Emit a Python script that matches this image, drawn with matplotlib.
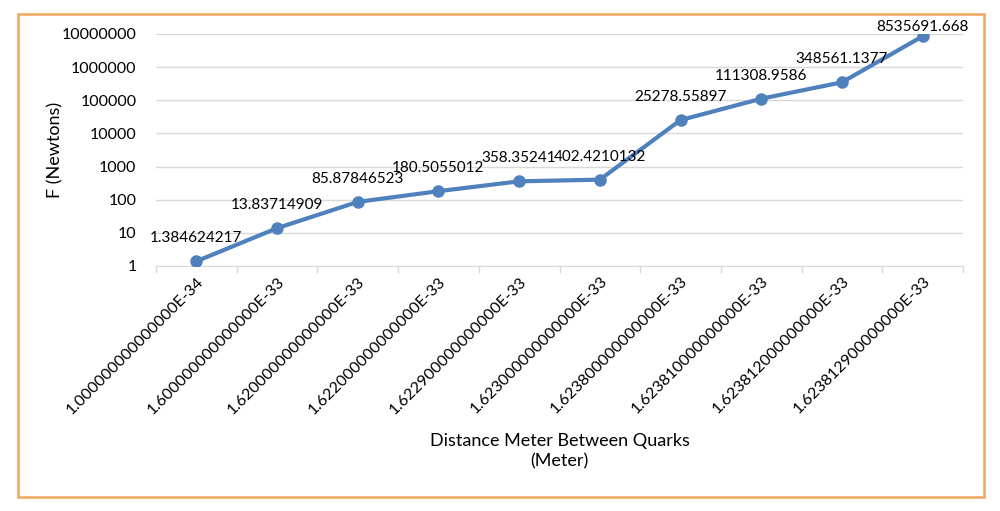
import matplotlib.pyplot as plt
from matplotlib import ticker
from matplotlib.patches import Rectangle

distances = ["1.000000000000000E-34", "1.600000000000000E-33", "1.620000000000000E-33",
             "1.622000000000000E-33", "1.622900000000000E-33", "1.623000000000000E-33",
             "1.623800000000000E-33", "1.623810000000000E-33", "1.623812000000000E-33",
             "1.623812900000000E-33"]
force = [1.384624217, 13.83714909, 85.87846523, 180.5055012, 358.35241, 402.4210132,
         25278.55897, 111308.9586, 348561.1377, 8535691.668]
force_labels = ["1.384624217", "13.83714909", "85.87846523", "180.5055012", "358.35241",
                "402.4210132", "25278.55897", "111308.9586", "348561.1377", "8535691.668"]

line_col = "#4F81BD"
grid_col = "#D9D9D9"
frame_col = "#F2A65E"

plt.rcParams['font.family'] = ['Lato', 'DejaVu Sans']

fig = plt.figure(figsize=(10, 5.11), dpi=100)
ax = fig.add_axes([0.156, 0.4795, 0.807, 0.454])

x = list(range(len(force)))
ax.plot(x, force, color=line_col, lw=3, marker='o', ms=8, zorder=3)
ax.set_yscale('log')
ax.set_ylim(1, 1e7)
ax.set_xlim(-0.5, len(force) - 0.5)

ax.yaxis.set_major_locator(ticker.LogLocator(base=10, numticks=10))
ax.yaxis.set_minor_locator(ticker.NullLocator())
ax.yaxis.set_major_formatter(ticker.FuncFormatter(lambda v, pos: '{0:.0f}'.format(v)))
ax.tick_params(axis='y', length=0, labelsize=11.5, pad=14)
ax.grid(axis='y', color=grid_col, lw=1)
ax.set_axisbelow(True)

# category labels at centres, tick marks at boundaries
ax.set_xticks(x)
ax.set_xticklabels(distances, rotation=45, ha='right', va='top', rotation_mode='anchor', fontsize=11.5)
ax.tick_params(axis='x', which='major', length=0, pad=6)
ax.set_xticks([i - 0.5 for i in range(len(force) + 1)], minor=True)
ax.tick_params(axis='x', which='minor', length=5, color=grid_col, width=1)

for s in ['left', 'right', 'top']:
    ax.spines[s].set_visible(False)
ax.spines['bottom'].set_color(grid_col)

for i, (v, lab) in enumerate(zip(force, force_labels)):
    dy = 16.5 if i < len(force) - 1 else 6.5
    ax.annotate(lab, xy=(i, v), xytext=(0, dy), textcoords='offset points',
                ha='center', va='center', fontsize=11)

ax.set_ylabel("F (Newtons)", fontsize=13, va='center')
ax.yaxis.set_label_coords(-0.125, 0.5)
fig.text(0.5595, 0.1164, "Distance Meter Between Quarks\n(Meter)", ha='center', va='center',
         fontsize=13, linespacing=1.3)

fig.patches.append(Rectangle((0.018, 0.027), 0.966, 0.945, transform=fig.transFigure,
                             fill=False, edgecolor=frame_col, lw=1.8))

plt.savefig("out.png", dpi=100)
